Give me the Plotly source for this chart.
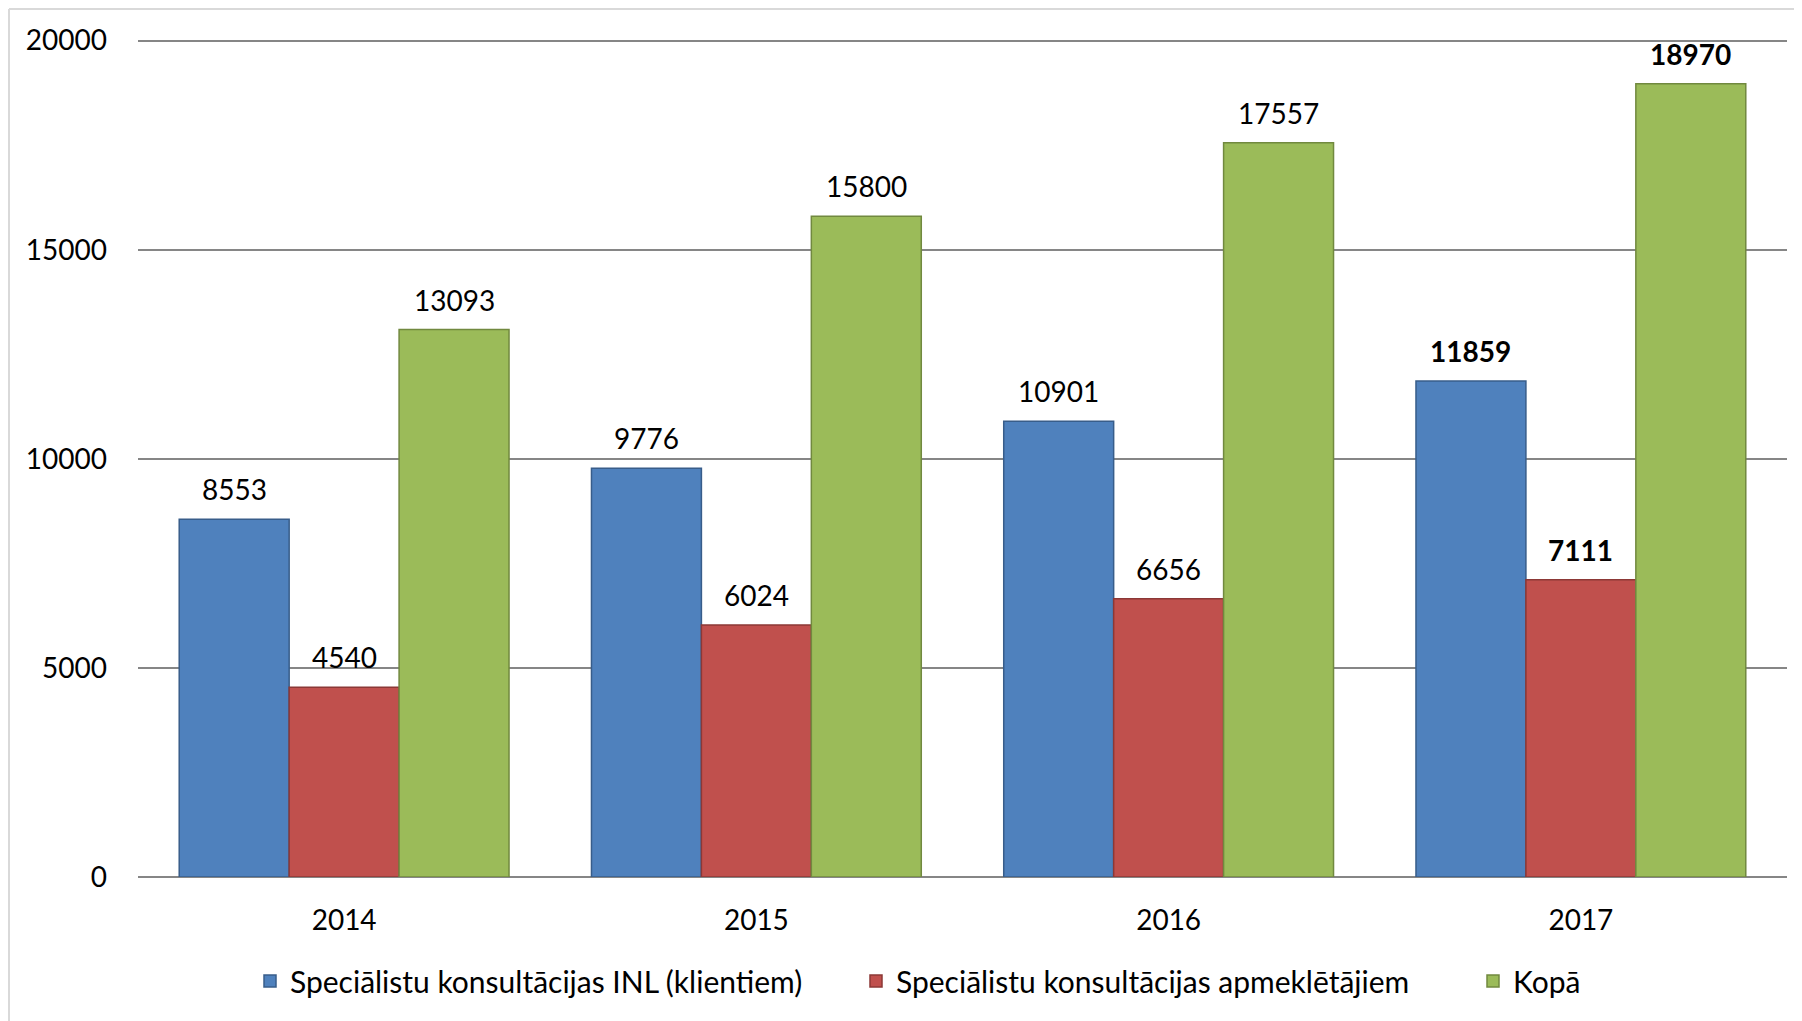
import plotly.graph_objects as go

years = ["2014", "2015", "2016", "2017"]
series_names = [
    "Speciālistu konsultācijas INL (klientiem)",
    "Speciālistu konsultācijas apmeklētājiem",
    "Kopā",
]
inl_clients = [8553, 9776, 10901, 11859]
visitors = [4540, 6024, 6656, 7111]
total = [13093, 15800, 17557, 18970]
y_ticks = [0, 5000, 10000, 15000, 20000]

all_values = [inl_clients, visitors, total]
fills = ["#4F81BD", "#C0504D", "#9BBB59"]
outlines = ["#385D8A", "#8C3836", "#71893F"]

FONT = "Lato, 'Noto Sans', sans-serif"
W, H = 1802, 1021
L, R, T, B = 130, 23, 31, 152
PW, PH = W - L - R, H - T - B

legend_ids = ["legend", "legend2", "legend3"]
legend_px = [242, 848, 1465]  # left edge of each legend entry, in figure pixels

fig = go.Figure()
for name, vals, fc, lc, lid in zip(series_names, all_values, fills, outlines, legend_ids):
    fig.add_trace(go.Bar(
        x=years, y=vals, name=name, legend=lid,
        marker=dict(color=fc, line=dict(color=lc, width=1.5)),
    ))

bargap = 0.2
bw = (1 - bargap) / 3
annotations = []
for s, vals in enumerate(all_values):
    off = (s - 1) * bw
    for i, v in enumerate(vals):
        bold = i == len(years) - 1
        annotations.append(dict(
            x=i + off, y=v, xref="x", yref="y",
            text=f"<b>{v}</b>" if bold else str(v),
            showarrow=False, yshift=30,
            font=dict(family=FONT, size=28, color="#000000"),
        ))

legends = {}
for lid, px in zip(legend_ids, legend_px):
    legends[lid] = dict(
        orientation="h", x=(px - L) / PW, xanchor="left",
        y=(H - B - 973) / PH, yanchor="middle",
        font=dict(family=FONT, size=30, color="#000000"),
        bgcolor="rgba(0,0,0,0)", borderwidth=0,
    )

fig.update_layout(
    width=W, height=H,
    margin=dict(l=L, r=R, t=T, b=B, pad=0, autoexpand=False),
    paper_bgcolor="#FFFFFF", plot_bgcolor="#FFFFFF",
    barmode="group", bargap=bargap, bargroupgap=0,
    font=dict(family=FONT, size=28, color="#000000"),
    annotations=annotations,
    showlegend=True,
    **legends,
    xaxis=dict(
        type="category", showgrid=False, zeroline=False,
        showline=False, ticks="", ticklabelstandoff=24,
        tickfont=dict(family=FONT, size=28),
    ),
    yaxis=dict(
        range=[0, 20040], tickvals=y_ticks, ticktext=[str(t) for t in y_ticks],
        showgrid=True, gridcolor="#868686", gridwidth=1.5,
        zeroline=True, zerolinecolor="#868686", zerolinewidth=1.5,
        showline=False, ticks="", ticklabelstandoff=30,
        tickfont=dict(family=FONT, size=28),
    ),
    shapes=[
        dict(type="line", xref="paper", yref="paper",
             x0=(1 - L) / PW, x1=(W - L) / PW,
             y0=(H - B - 1) / PH, y1=(H - B - 1) / PH,
             line=dict(color="#D9D9D9", width=2)),
        dict(type="line", xref="paper", yref="paper",
             x0=(1 - L) / PW, x1=(1 - L) / PW,
             y0=(H - B - 1) / PH, y1=-B / PH,
             line=dict(color="#D9D9D9", width=2)),
    ],
)

fig.write_html("out.html")
